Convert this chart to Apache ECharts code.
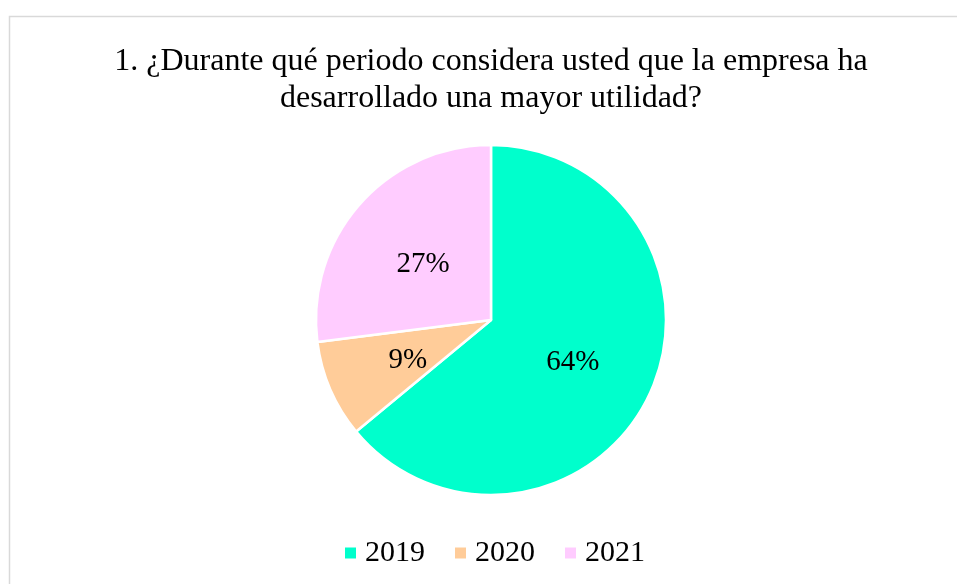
<!DOCTYPE html>
<html>
<head>
<meta charset="utf-8">
<script src="https://cdn.jsdelivr.net/npm/echarts@6/dist/echarts.min.js"></script>
<style>
  html, body { margin: 0; padding: 0; background: #fff; }
  #myChart { width: 957px; height: 584px; }
</style>
</head>
<body>
<div id="myChart"></div>
<script>
// datos
const categorias = ['2019', '2020', '2021']
const valores = [64, 9, 27]
const colores = ['#00FFCC', '#FFCC99', '#FFCCFF']
const titulo = '1. ¿Durante qué periodo considera usted que la empresa ha\ndesarrollado una mayor utilidad?'

const serif = '"Liberation Serif", "Times New Roman", serif'

let myChart = echarts.init(document.getElementById('myChart'))
myChart.setOption({
  animation: false,
  color: colores,
  title: {
    text: titulo,
    left: 486,
    textAlign: 'center',
    top: 38,
    textStyle: {
      fontFamily: serif,
      fontSize: 32,
      fontWeight: 'normal',
      color: '#000',
      lineHeight: 37
    }
  },
  // marco del área del gráfico
  graphic: [{
    type: 'rect',
    shape: { x: 9.5, y: 16.5, width: 1000, height: 1000 },
    style: { fill: 'none', stroke: '#d9d9d9', lineWidth: 1.5 },
    silent: true
  }],
  legend: {
    data: categorias,
    bottom: 11,
    left: 338,
    icon: 'rect',
    itemWidth: 13,
    itemHeight: 13,
    itemGap: 28,
    textStyle: {
      fontFamily: serif,
      fontSize: 30,
      color: '#000',
      padding: [0, 0, 0, 3]
    }
  },
  series: [{
    type: 'pie',
    center: [491, 320],
    radius: [0, 175],
    startAngle: 90,
    clockwise: true,
    data: categorias.map((c, i) => ({ name: c, value: valores[i] })),
    itemStyle: {
      borderColor: '#fff',
      borderWidth: 2.5
    },
    label: {
      show: true,
      position: 'inside',
      formatter: '{d}%',
      offset: [0, 4],
      fontFamily: serif,
      fontSize: 29,
      color: '#000'
    },
    labelLine: { show: false },
    emphasis: { disabled: true }
  }]
}, true)
</script>
</body>
</html>
